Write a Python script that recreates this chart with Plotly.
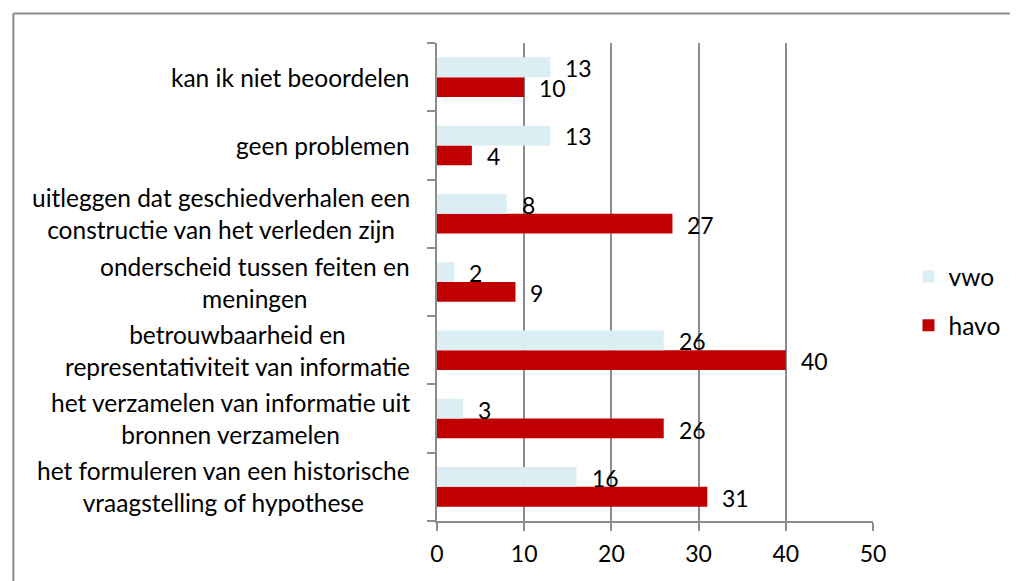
import plotly.graph_objects as go

# categories from bottom to top
categories = [
    "het formuleren van een historische<br>vraagstelling of hypothese",
    "het verzamelen van informatie uit<br>bronnen verzamelen",
    "betrouwbaarheid en<br>representativiteit van informatie",
    "onderscheid tussen feiten en<br>meningen",
    "uitleggen dat geschiedverhalen een<br>constructie van het verleden zijn",
    "geen problemen",
    "kan ik niet beoordelen",
]
vwo = [16, 3, 26, 2, 8, 13, 13]
havo = [31, 26, 40, 9, 27, 4, 10]
x_ticks = [0, 10, 20, 30, 40, 50]

FONT = "Lato, Carlito, Calibri, sans-serif"
GRAY = "#8c8c8c"
VWO_COLOR = "#DAEEF3"
HAVO_COLOR = "#C00000"

OFF = 8  # page body margin
W, H = 1018 - OFF, 581 - OFF
ML, MR, MT, MB = 437 - OFF, 139, 43 - OFF, 60
PW, PH = W - ML - MR, H - MT - MB

fig = go.Figure()
fig.add_trace(go.Bar(y=categories, x=havo, name="havo", orientation="h",
                     marker=dict(color=HAVO_COLOR, line=dict(width=0)),
                     legendgroup="h", legendrank=2))
fig.add_trace(go.Bar(y=categories, x=vwo, name="vwo", orientation="h",
                     marker=dict(color=VWO_COLOR, line=dict(width=0)),
                     legendgroup="v", legendrank=1))

annotations = []
# data labels
for vals, ysh in ((vwo, 9), (havo, -11)):
    for c, v in zip(categories, vals):
        annotations.append(dict(x=v, y=c, xref="x", yref="y", text=str(v),
                                showarrow=False, xanchor="left", xshift=13, yshift=ysh,
                                font=dict(family=FONT, size=23, color="black")))
# category labels (centered multi-line, right-aligned block)
for c in categories:
    annotations.append(dict(x=0, y=c, xref="paper", yref="y", text=c,
                            showarrow=False, xanchor="right", xshift=-25, align="center",
                            font=dict(family=FONT, size=24.5, color="black")))

def px_x(p):
    return (p - OFF - ML) / PW

def px_y(p):
    return (H - MB - (p - OFF)) / PH

shapes = [
    dict(type="line", xref="paper", yref="paper", x0=px_x(7.5), x1=px_x(1030), y0=px_y(13.5), y1=px_y(13.5),
         line=dict(color=GRAY, width=2)),
    dict(type="line", xref="paper", yref="paper", x0=px_x(7.5), x1=px_x(7.5), y0=px_y(13.5), y1=px_y(600),
         line=dict(color=GRAY, width=2)),
]

fig.update_layout(
    width=W, height=H,
    margin=dict(l=ML, r=MR, t=MT, b=MB),
    paper_bgcolor="white", plot_bgcolor="white",
    barmode="group", bargap=0.42, bargroupgap=0,
    font=dict(family=FONT, size=23, color="black"),
    showlegend=True,
    legend=dict(x=px_x(915), y=px_y(301), xanchor="left", yanchor="middle",
                font=dict(family=FONT, size=24.5, color="black"),
                tracegroupgap=14, bgcolor="rgba(0,0,0,0)"),
    annotations=annotations,
    shapes=shapes,
)
fig.update_xaxes(range=[0, 50], tickvals=x_ticks, showgrid=True, gridcolor=GRAY, gridwidth=1.5,
                 showline=True, linecolor=GRAY, linewidth=1.5, ticks="outside", ticklen=8,
                 tickcolor=GRAY, tickwidth=1.5, zeroline=False, ticklabelstandoff=4,
                 tickfont=dict(family=FONT, size=23, color="black"))
fig.update_yaxes(type="category", categoryorder="array", categoryarray=categories,
                 showticklabels=False, showgrid=False, showline=True, linecolor=GRAY, linewidth=1.5,
                 ticks="outside", ticklen=8, tickcolor=GRAY, tickwidth=1.5, tickson="boundaries",
                 zeroline=False)

fig.write_html("out.html")
